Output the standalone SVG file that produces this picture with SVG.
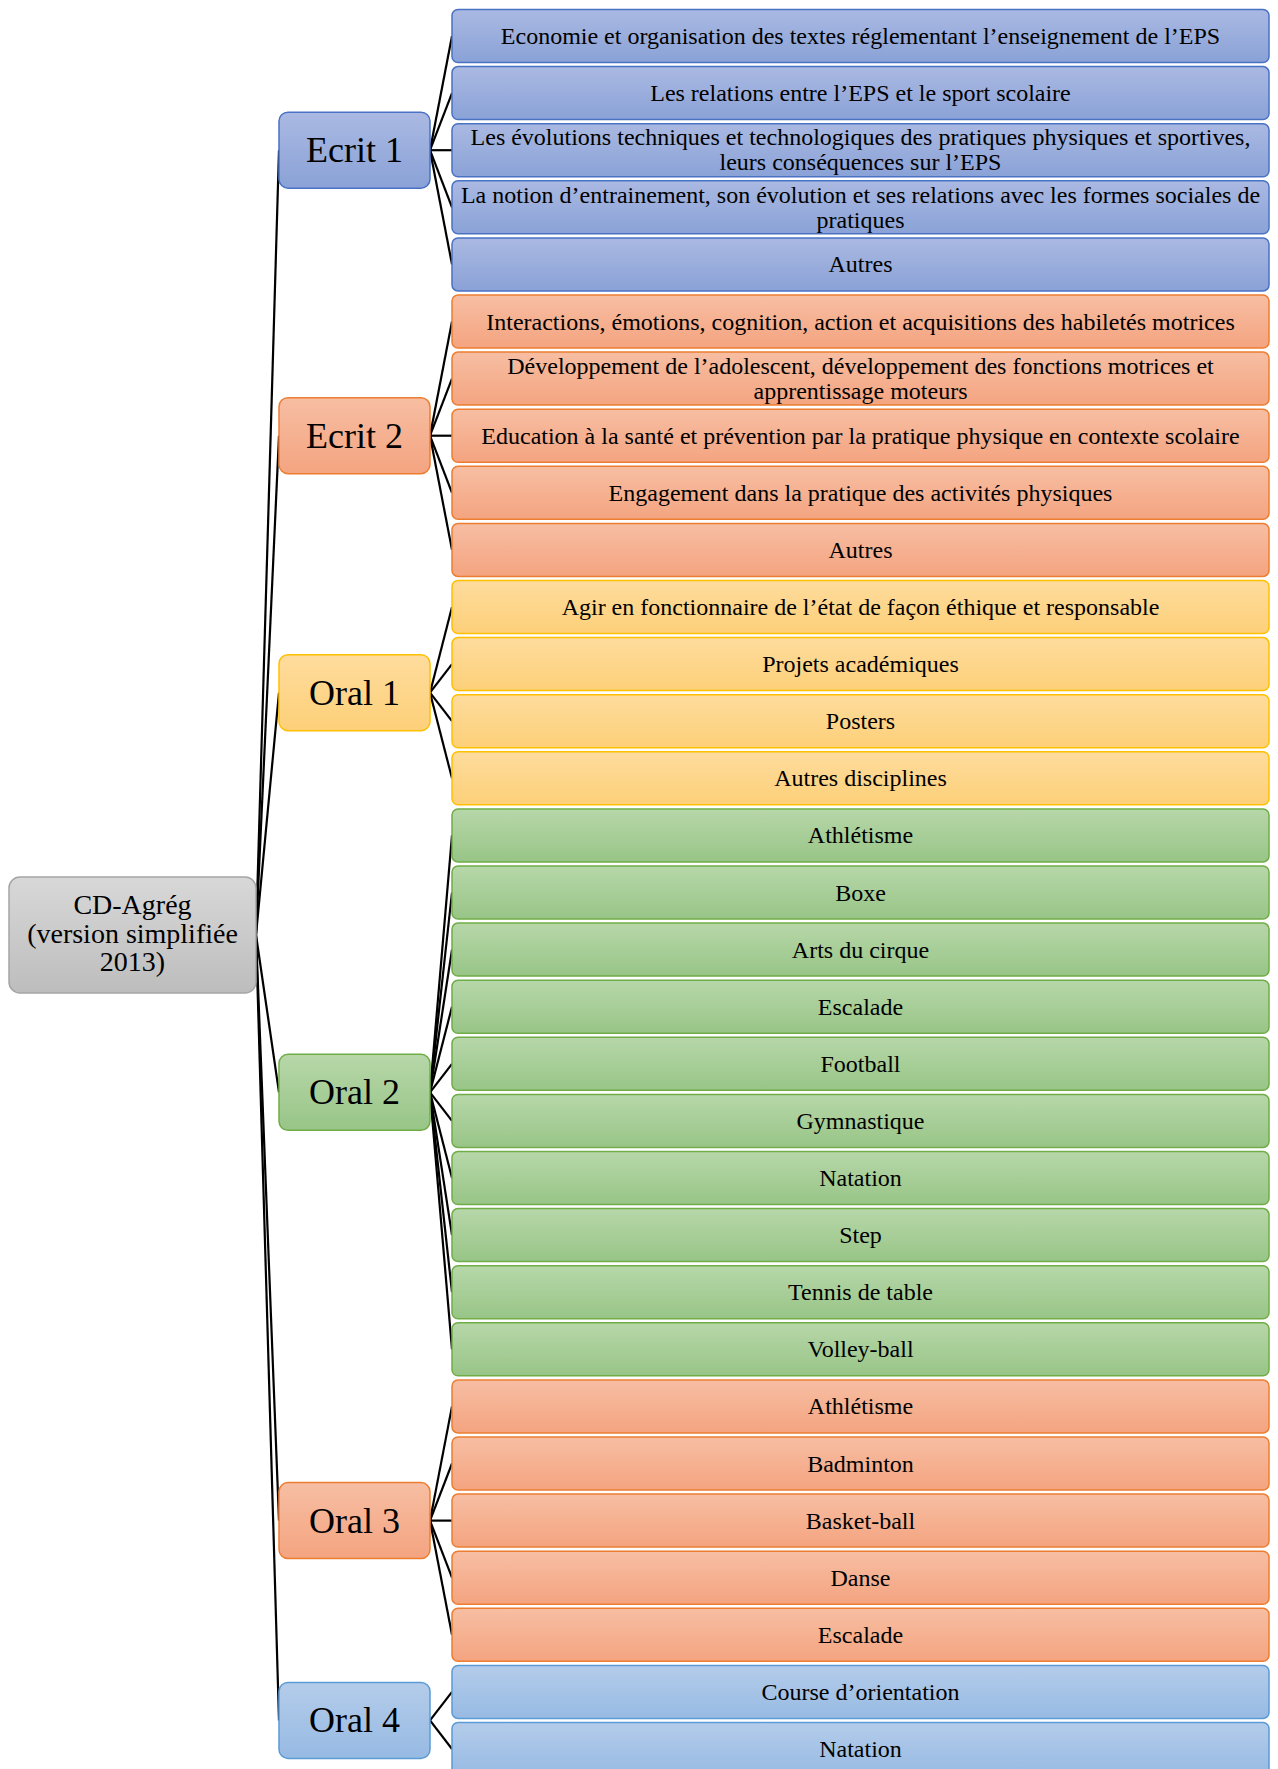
<svg xmlns="http://www.w3.org/2000/svg" width="1278" height="1769" viewBox="0 0 1278 1769">
<defs>
<linearGradient id="gV" x1="0" y1="0" x2="0" y2="1"><stop offset="0" stop-color="#aab9e2"/><stop offset="1" stop-color="#8aa2d7"/></linearGradient>
<linearGradient id="gO" x1="0" y1="0" x2="0" y2="1"><stop offset="0" stop-color="#f7bea3"/><stop offset="1" stop-color="#f4a480"/></linearGradient>
<linearGradient id="gY" x1="0" y1="0" x2="0" y2="1"><stop offset="0" stop-color="#fedc9d"/><stop offset="1" stop-color="#fdd079"/></linearGradient>
<linearGradient id="gG" x1="0" y1="0" x2="0" y2="1"><stop offset="0" stop-color="#b7d7a9"/><stop offset="1" stop-color="#98c587"/></linearGradient>
<linearGradient id="gB" x1="0" y1="0" x2="0" y2="1"><stop offset="0" stop-color="#b4ccea"/><stop offset="1" stop-color="#97bae3"/></linearGradient>
<linearGradient id="gR" x1="0" y1="0" x2="0" y2="1"><stop offset="0" stop-color="#d8d8d8"/><stop offset="1" stop-color="#bdbdbd"/></linearGradient>
</defs>
<style>
text{font-family:"Liberation Serif","Times New Roman",serif;fill:#000;text-anchor:middle}
.lf{font-size:24px}
.md{font-size:36px}
.rt{font-size:28px}
.v{fill:url(#gV);stroke:#4a72c4;stroke-width:1.5}
.o{fill:url(#gO);stroke:#ed7d31;stroke-width:1.5}
.y{fill:url(#gY);stroke:#ffc000;stroke-width:1.5}
.g{fill:url(#gG);stroke:#70ad47;stroke-width:1.5}
.b{fill:url(#gB);stroke:#5b9bd5;stroke-width:1.5}
.r{fill:url(#gR);stroke:#a5a5a5;stroke-width:1.5}
#connectors line{stroke:#000;stroke-width:2.2}
</style>
<g id="connectors">
<line x1="256" y1="935" x2="279" y2="150.2"/>
<line x1="256" y1="935" x2="279" y2="435.7"/>
<line x1="256" y1="935" x2="279" y2="692.65"/>
<line x1="256" y1="935" x2="279" y2="1092.35"/>
<line x1="256" y1="935" x2="279" y2="1520.6"/>
<line x1="256" y1="935" x2="279" y2="1720.45"/>
<line x1="430" y1="150.2" x2="452" y2="36"/>
<line x1="430" y1="150.2" x2="452" y2="93.1"/>
<line x1="430" y1="150.2" x2="452" y2="150.2"/>
<line x1="430" y1="150.2" x2="452" y2="207.3"/>
<line x1="430" y1="150.2" x2="452" y2="264.4"/>
<line x1="430" y1="435.7" x2="452" y2="321.5"/>
<line x1="430" y1="435.7" x2="452" y2="378.6"/>
<line x1="430" y1="435.7" x2="452" y2="435.7"/>
<line x1="430" y1="435.7" x2="452" y2="492.8"/>
<line x1="430" y1="435.7" x2="452" y2="549.9"/>
<line x1="430" y1="692.65" x2="452" y2="607"/>
<line x1="430" y1="692.65" x2="452" y2="664.1"/>
<line x1="430" y1="692.65" x2="452" y2="721.2"/>
<line x1="430" y1="692.65" x2="452" y2="778.3"/>
<line x1="430" y1="1092.35" x2="452" y2="835.4"/>
<line x1="430" y1="1092.35" x2="452" y2="892.5"/>
<line x1="430" y1="1092.35" x2="452" y2="949.6"/>
<line x1="430" y1="1092.35" x2="452" y2="1006.7"/>
<line x1="430" y1="1092.35" x2="452" y2="1063.8"/>
<line x1="430" y1="1092.35" x2="452" y2="1120.9"/>
<line x1="430" y1="1092.35" x2="452" y2="1178"/>
<line x1="430" y1="1092.35" x2="452" y2="1235.1"/>
<line x1="430" y1="1092.35" x2="452" y2="1292.2"/>
<line x1="430" y1="1092.35" x2="452" y2="1349.3"/>
<line x1="430" y1="1520.6" x2="452" y2="1406.4"/>
<line x1="430" y1="1520.6" x2="452" y2="1463.5"/>
<line x1="430" y1="1520.6" x2="452" y2="1520.6"/>
<line x1="430" y1="1520.6" x2="452" y2="1577.7"/>
<line x1="430" y1="1520.6" x2="452" y2="1634.8"/>
<line x1="430" y1="1720.45" x2="452" y2="1691.9"/>
<line x1="430" y1="1720.45" x2="452" y2="1749"/>
</g>
<g id="root"><rect class="r" x="9" y="877" width="247" height="116" rx="11"/><text class="rt" x="132.5" y="914">CD-Agrég</text><text class="rt" x="132.5" y="943">(version simplifiée</text><text class="rt" x="132.5" y="971">2013)</text></g>
<g id="ecrit1"><rect class="v" x="279" y="112.2" width="151" height="76" rx="9"/><text class="md" x="354.5" y="162.2">Ecrit 1</text></g>
<g id="ecrit2"><rect class="o" x="279" y="397.7" width="151" height="76" rx="9"/><text class="md" x="354.5" y="447.7">Ecrit 2</text></g>
<g id="oral1"><rect class="y" x="279" y="654.65" width="151" height="76" rx="9"/><text class="md" x="354.5" y="704.65">Oral 1</text></g>
<g id="oral2"><rect class="g" x="279" y="1054.35" width="151" height="76" rx="9"/><text class="md" x="354.5" y="1104.35">Oral 2</text></g>
<g id="oral3"><rect class="o" x="279" y="1482.6" width="151" height="76" rx="9"/><text class="md" x="354.5" y="1532.6">Oral 3</text></g>
<g id="oral4"><rect class="b" x="279" y="1682.45" width="151" height="76" rx="9"/><text class="md" x="354.5" y="1732.45">Oral 4</text></g>
<g id="l0"><rect class="v" x="452" y="9.5" width="817" height="53" rx="6"/><text class="lf" x="860.5" y="44">Economie et organisation des textes réglementant l’enseignement de l’EPS</text></g>
<g id="l1"><rect class="v" x="452" y="66.6" width="817" height="53" rx="6"/><text class="lf" x="860.5" y="101.1">Les relations entre l’EPS et le sport scolaire</text></g>
<g id="l2"><rect class="v" x="452" y="123.7" width="817" height="53" rx="6"/><text class="lf" x="860.5" y="145.4">Les évolutions techniques et technologiques des pratiques physiques et sportives,</text><text class="lf" x="860.5" y="170.4">leurs conséquences sur l’EPS</text></g>
<g id="l3"><rect class="v" x="452" y="180.8" width="817" height="53" rx="6"/><text class="lf" x="860.5" y="202.5">La notion d’entrainement, son évolution et ses relations avec les formes sociales de</text><text class="lf" x="860.5" y="227.5">pratiques</text></g>
<g id="l4"><rect class="v" x="452" y="237.9" width="817" height="53" rx="6"/><text class="lf" x="860.5" y="272.4">Autres</text></g>
<g id="l5"><rect class="o" x="452" y="295" width="817" height="53" rx="6"/><text class="lf" x="860.5" y="329.5">Interactions, émotions, cognition, action et acquisitions des habiletés motrices</text></g>
<g id="l6"><rect class="o" x="452" y="352.1" width="817" height="53" rx="6"/><text class="lf" x="860.5" y="373.8">Développement de l’adolescent, développement des fonctions motrices et</text><text class="lf" x="860.5" y="398.8">apprentissage moteurs</text></g>
<g id="l7"><rect class="o" x="452" y="409.2" width="817" height="53" rx="6"/><text class="lf" x="860.5" y="443.7">Education à la santé et prévention par la pratique physique en contexte scolaire</text></g>
<g id="l8"><rect class="o" x="452" y="466.3" width="817" height="53" rx="6"/><text class="lf" x="860.5" y="500.8">Engagement dans la pratique des activités physiques</text></g>
<g id="l9"><rect class="o" x="452" y="523.4" width="817" height="53" rx="6"/><text class="lf" x="860.5" y="557.9">Autres</text></g>
<g id="l10"><rect class="y" x="452" y="580.5" width="817" height="53" rx="6"/><text class="lf" x="860.5" y="615">Agir en fonctionnaire de l’état de façon éthique et responsable</text></g>
<g id="l11"><rect class="y" x="452" y="637.6" width="817" height="53" rx="6"/><text class="lf" x="860.5" y="672.1">Projets académiques</text></g>
<g id="l12"><rect class="y" x="452" y="694.7" width="817" height="53" rx="6"/><text class="lf" x="860.5" y="729.2">Posters</text></g>
<g id="l13"><rect class="y" x="452" y="751.8" width="817" height="53" rx="6"/><text class="lf" x="860.5" y="786.3">Autres disciplines</text></g>
<g id="l14"><rect class="g" x="452" y="808.9" width="817" height="53" rx="6"/><text class="lf" x="860.5" y="843.4">Athlétisme</text></g>
<g id="l15"><rect class="g" x="452" y="866" width="817" height="53" rx="6"/><text class="lf" x="860.5" y="900.5">Boxe</text></g>
<g id="l16"><rect class="g" x="452" y="923.1" width="817" height="53" rx="6"/><text class="lf" x="860.5" y="957.6">Arts du cirque</text></g>
<g id="l17"><rect class="g" x="452" y="980.2" width="817" height="53" rx="6"/><text class="lf" x="860.5" y="1014.7">Escalade</text></g>
<g id="l18"><rect class="g" x="452" y="1037.3" width="817" height="53" rx="6"/><text class="lf" x="860.5" y="1071.8">Football</text></g>
<g id="l19"><rect class="g" x="452" y="1094.4" width="817" height="53" rx="6"/><text class="lf" x="860.5" y="1128.9">Gymnastique</text></g>
<g id="l20"><rect class="g" x="452" y="1151.5" width="817" height="53" rx="6"/><text class="lf" x="860.5" y="1186">Natation</text></g>
<g id="l21"><rect class="g" x="452" y="1208.6" width="817" height="53" rx="6"/><text class="lf" x="860.5" y="1243.1">Step</text></g>
<g id="l22"><rect class="g" x="452" y="1265.7" width="817" height="53" rx="6"/><text class="lf" x="860.5" y="1300.2">Tennis de table</text></g>
<g id="l23"><rect class="g" x="452" y="1322.8" width="817" height="53" rx="6"/><text class="lf" x="860.5" y="1357.3">Volley-ball</text></g>
<g id="l24"><rect class="o" x="452" y="1379.9" width="817" height="53" rx="6"/><text class="lf" x="860.5" y="1414.4">Athlétisme</text></g>
<g id="l25"><rect class="o" x="452" y="1437" width="817" height="53" rx="6"/><text class="lf" x="860.5" y="1471.5">Badminton</text></g>
<g id="l26"><rect class="o" x="452" y="1494.1" width="817" height="53" rx="6"/><text class="lf" x="860.5" y="1528.6">Basket-ball</text></g>
<g id="l27"><rect class="o" x="452" y="1551.2" width="817" height="53" rx="6"/><text class="lf" x="860.5" y="1585.7">Danse</text></g>
<g id="l28"><rect class="o" x="452" y="1608.3" width="817" height="53" rx="6"/><text class="lf" x="860.5" y="1642.8">Escalade</text></g>
<g id="l29"><rect class="b" x="452" y="1665.4" width="817" height="53" rx="6"/><text class="lf" x="860.5" y="1699.9">Course d’orientation</text></g>
<g id="l30"><rect class="b" x="452" y="1722.5" width="817" height="53" rx="6"/><text class="lf" x="860.5" y="1757">Natation</text></g>
</svg>
